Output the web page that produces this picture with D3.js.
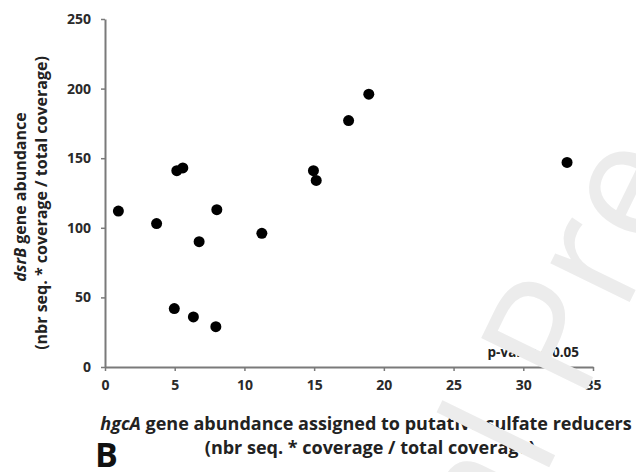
<!DOCTYPE html>
<html>
<head>
<meta charset="utf-8">
<script src="https://cdn.jsdelivr.net/npm/d3@7"></script>
<style>
  body { margin: 0; background: #fff; }
  svg { display: block; font-family: "Open Sans", "Noto Sans", sans-serif; }
</style>
</head>
<body>
<script>
// hgcA (x) vs dsrB (y) abundance
const hgcA = [0.96, 3.7, 5.15, 5.58, 8.02, 6.75, 11.25, 4.97, 6.34, 7.95, 14.95, 15.15, 17.47, 18.92, 33.14];
const dsrB = [112, 103, 141, 143, 113, 90, 96, 42, 36, 29, 141, 134, 177, 196, 147];
const xTicks = [0, 5, 10, 15, 20, 25, 30, 35];
const yTicks = [0, 50, 100, 150, 200, 250];

const width = 636, height = 472;
const svg = d3.select("body").append("svg")
  .attr("width", width)
  .attr("height", height);

svg.append("rect").attr("width", width).attr("height", height).attr("fill", "#fff");

const x = d3.scaleLinear().domain([0, 35]).range([105, 593]);
const y = d3.scaleLinear().domain([0, 250]).range([367, 19]);

// axes
const xAxis = svg.append("g")
  .attr("transform", `translate(0,${y(0)})`)
  .call(d3.axisBottom(x).tickValues(xTicks).tickSize(4).tickPadding(9).tickSizeOuter(0));
const yAxis = svg.append("g")
  .attr("transform", `translate(${x(0)},0)`)
  .call(d3.axisLeft(y).tickValues(yTicks).tickSize(4).tickPadding(10).tickSizeOuter(0));

[xAxis, yAxis].forEach(g => {
  g.select(".domain").attr("stroke", "#7a7a7a").attr("stroke-width", 2);
  g.selectAll(".tick line").attr("stroke", "#7a7a7a").attr("stroke-width", 1.5);
  g.selectAll(".tick text")
    .attr("fill", "#2a2a2a")
    .style("font-size", "14px")
    .style("font-weight", "700")
    .style("font-family", "'Open Sans', sans-serif");
});

// points
svg.append("g").selectAll("circle")
  .data(hgcA)
  .join("circle")
  .attr("cx", d => x(d))
  .attr("cy", (d, i) => y(dsrB[i]))
  .attr("r", 5.5)
  .attr("fill", "#000");

// y title
const yTitle = svg.append("g")
  .attr("transform", `translate(0,${(y(0) + y(250)) / 2 + 4}) rotate(-90)`)
  .style("font-weight", "700")
  .attr("fill", "#222")
  .attr("text-anchor", "middle");
const yt1 = yTitle.append("text").attr("x", 0).attr("y", 26).style("font-size", "16px");
yt1.append("tspan").style("font-style", "italic").text("dsrB");
yt1.append("tspan").text(" gene abundance");
yTitle.append("text").attr("x", -6).attr("y", 47).style("font-size", "16px")
  .text("(nbr seq. * coverage / total coverage)");

// x title
const xTitle = svg.append("g")
  .style("font-weight", "700")
  .attr("fill", "#222")
  .attr("text-anchor", "middle");
const xt1 = xTitle.append("text").attr("x", 366).attr("y", 430).style("font-size", "18px");
xt1.append("tspan").style("font-style", "italic").text("hgcA");
xt1.append("tspan").text(" gene abundance assigned to putative sulfate reducers");
xTitle.append("text").attr("x", 370).attr("y", 454).style("font-size", "18px")
  .text("(nbr seq. * coverage / total coverage)");

// annotation and panel letter
svg.append("text")
  .attr("x", x(35) - 14).attr("y", y(0) - 10)
  .attr("text-anchor", "end")
  .attr("fill", "#222")
  .style("font-size", "13.5px").style("font-weight", "700")
  .text("p-value < 0.05");

svg.append("text")
  .attr("x", 95).attr("y", 467)
  .attr("fill", "#111")
  .style("font-size", "34px").style("font-weight", "700")
  .text("B");

// faint page watermark, placed so that its "P" sits where the reference shows it
const wm = svg.append("text")
  .attr("fill", "#ececec")
  .style("font-size", "165px")
  .style("font-family", "'Open Sans', sans-serif")
  .text("Journal Pre-proof");
const pOff = wm.node().getSubStringLength(0, 8);
const ang = -64 * Math.PI / 180;
const px = 580, py = 404;
wm.attr("transform", `translate(${px - pOff * Math.cos(ang)},${py - pOff * Math.sin(ang)}) rotate(-64)`);
</script>
</body>
</html>
